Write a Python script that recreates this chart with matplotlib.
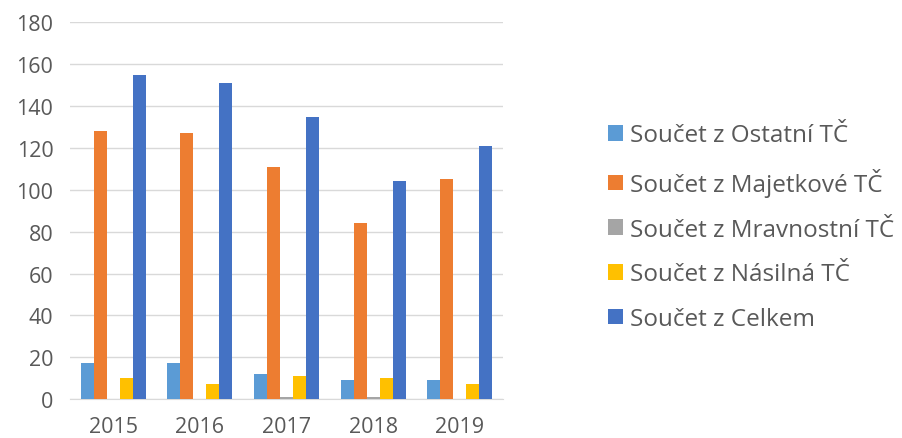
import numpy as np
import matplotlib.pyplot as plt

# data
years = ['2015', '2016', '2017', '2018', '2019']
series_names = ['Součet z Ostatní TČ', 'Součet z Majetkové TČ', 'Součet z Mravnostní TČ',
                'Součet z Násilná TČ', 'Součet z Celkem']
ostatni = [17, 17, 12, 9, 9]
majetkove = [128, 127, 111, 84, 105]
mravnostni = [0, 0, 1, 1, 0]
nasilna = [10, 7, 11, 10, 7]
celkem = [155, 151, 135, 104, 121]
colors = ['#5B9BD5', '#ED7D31', '#A5A5A5', '#FFC000', '#4472C4']

plt.rcParams['font.family'] = ['Open Sans', 'DejaVu Sans']
text_col = '#595959'

fig = plt.figure(figsize=(9.02, 4.39), dpi=100)
ax = fig.add_axes([0.0776, 0.0888, 0.4804, 0.8577])

x = np.arange(len(years))
width = 0.15
all_series = [ostatni, majetkove, mravnostni, nasilna, celkem]
for i, (vals, name, col) in enumerate(zip(all_series, series_names, colors)):
    ax.bar(x + (i - 2) * width, vals, width, color=col, label=name, zorder=3)

ax.set_xlim(-0.5, len(years) - 0.5)
ax.set_ylim(0, 180)
ax.set_yticks(range(0, 181, 20))
ax.set_xticks(x)
ax.set_xticklabels(years)
ax.grid(axis='y', color='#D9D9D9', linewidth=1, zorder=0)
for s in ['top', 'right', 'left']:
    ax.spines[s].set_visible(False)
ax.spines['bottom'].set_color('#D9D9D9')
ax.tick_params(length=0, labelsize=15.5, colors=text_col)
ax.tick_params(axis='y', pad=12)
ax.tick_params(axis='x', pad=12)

leg = fig.legend(loc='center left', bbox_to_anchor=(0.674, 0.48), frameon=False,
                 fontsize=17.5, labelcolor=text_col, handlelength=0.62, handleheight=0.62,
                 handletextpad=0.3, labelspacing=0.85, borderpad=0, borderaxespad=0)

fig.savefig('out.png', dpi=100)
